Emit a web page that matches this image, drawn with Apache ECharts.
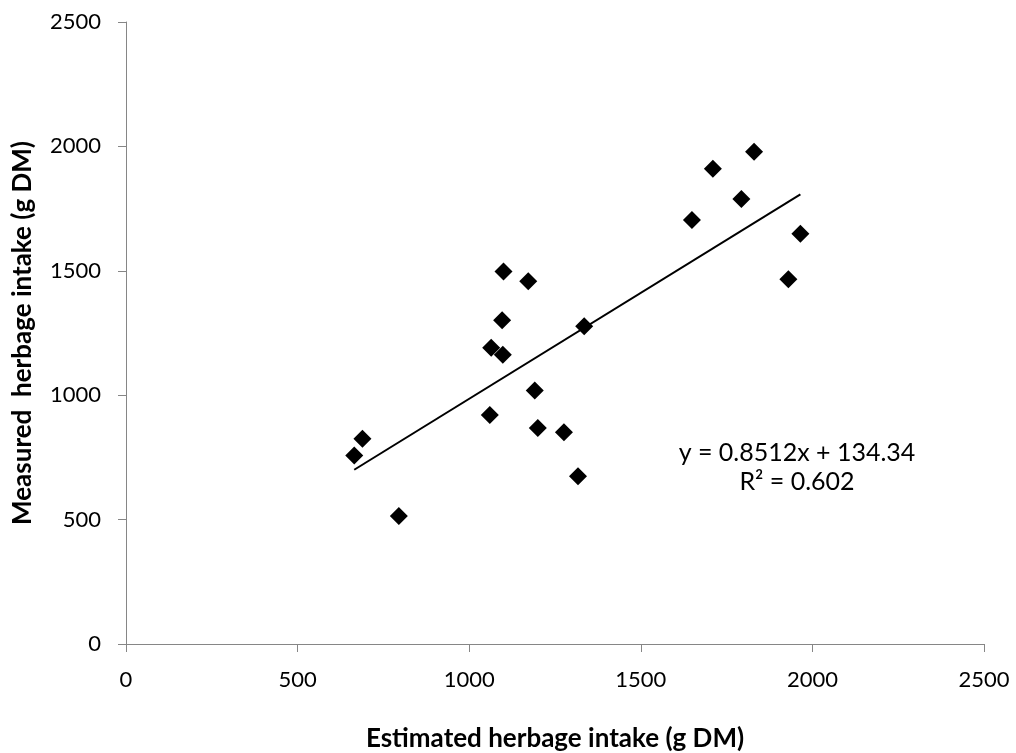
<!DOCTYPE html>
<html>
<head>
<meta charset="utf-8">
<script src="https://cdn.jsdelivr.net/npm/echarts@6/dist/echarts.min.js"></script>
<style>html,body{margin:0;padding:0;background:#fff}#c{width:1016px;height:753px}</style>
</head>
<body>
<div id="c"></div>
<script>
var estimated = [665, 689, 795, 1060, 1064, 1098, 1096, 1100, 1172, 1191, 1200, 1276, 1317, 1335, 1649, 1710, 1793, 1830, 1930, 1965];
var measured  = [758, 825, 514, 920, 1191, 1163, 1301, 1497, 1458, 1019, 868, 851, 674, 1277, 1704, 1910, 1789, 1978, 1466, 1649];
var xTicks = [0, 500, 1000, 1500, 2000, 2500];
var yTicks = [0, 500, 1000, 1500, 2000, 2500];
var slope = 0.8512, intercept = 134.34;
var eqText = ['y = 0.8512x + 134.34', 'R² = 0.602'];

var pts = estimated.map(function (x, i) { return [x, measured[i]]; });
var xmin = Math.min.apply(null, estimated), xmax = Math.max.apply(null, estimated);
var trend = [[xmin, slope * xmin + intercept], [xmax, slope * xmax + intercept]];

var font = 'Lato, "Open Sans", sans-serif';
var chart = echarts.init(document.getElementById('c'), null, {renderer: 'canvas'});
chart.setOption({
  animation: false,
  backgroundColor: '#fff',
  grid: {left: 126, right: 32, top: 22, bottom: 109, containLabel: false, outerBoundsMode: 'none'},
  xAxis: {
    type: 'value', min: 0, max: 2500, interval: 500,
    name: 'Estimated herbage intake (g DM)', nameLocation: 'middle', nameGap: 82,
    nameTextStyle: {fontFamily: font, fontSize: 26, fontWeight: 'bold', color: '#000'},
    axisLine: {show: true, onZero: false, lineStyle: {color: '#868686', width: 1}},
    axisTick: {show: true, inside: false, length: 8, lineStyle: {color: '#868686'}},
    axisLabel: {fontFamily: font, fontSize: 22, color: '#000', margin: 25,
      formatter: function (v) { return xTicks.indexOf(v) >= 0 ? String(v) : ''; }},
    splitLine: {show: false}
  },
  yAxis: {
    type: 'value', min: 0, max: 2500, interval: 500,
    name: 'Measured  herbage intake (g DM)', nameLocation: 'middle', nameGap: 90,
    nameTextStyle: {fontFamily: font, fontSize: 26, fontWeight: 'bold', color: '#000'},
    axisLine: {show: true, onZero: false, lineStyle: {color: '#868686', width: 1}},
    axisTick: {show: true, inside: false, length: 8, lineStyle: {color: '#868686'}},
    axisLabel: {fontFamily: font, fontSize: 22, color: '#000', margin: 25,
      formatter: function (v) { return yTicks.indexOf(v) >= 0 ? String(v) : ''; }},
    splitLine: {show: false}
  },
  series: [
    {
      type: 'line', data: trend, symbol: 'none', silent: true,
      lineStyle: {color: '#000', width: 2}, z: 1
    },
    {
      type: 'scatter', data: pts, symbol: 'diamond', symbolSize: 18,
      itemStyle: {color: '#000', opacity: 1}, z: 2
    }
  ],
  graphic: [
    {type: 'text', x: 797, y: 453, style: {text: eqText[0], fontFamily: font, fontSize: 25, fill: '#000', textAlign: 'center', textVerticalAlign: 'middle'}},
    {type: 'text', x: 797, y: 482, style: {text: eqText[1], fontFamily: font, fontSize: 25, fill: '#000', textAlign: 'center', textVerticalAlign: 'middle'}}
  ]
});
</script>
</body>
</html>
